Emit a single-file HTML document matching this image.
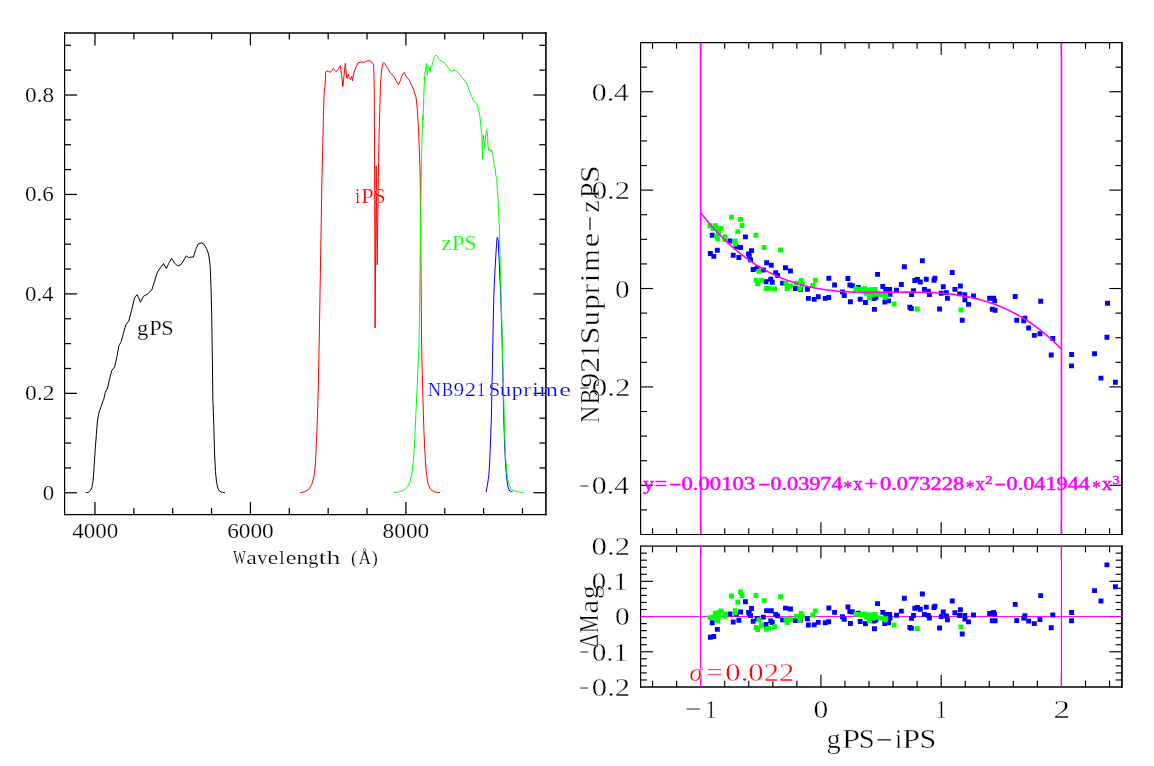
<!DOCTYPE html>
<html lang="en"><head><meta charset="utf-8"><title>Filter curves and colour term fit</title>
<style>html,body{margin:0;padding:0;background:#fff;}svg{display:block;}text{font-family:"Liberation Serif", "DejaVu Serif", serif;}.t1{stroke:#fff;stroke-width:0.2px}.t2{stroke:#fff;stroke-width:0.4px}</style>
</head><body>
<svg width="1154" height="766" viewBox="0 0 1154 766">
<rect width="1154" height="766" fill="#fff"/>
<g id="left-plot">
<polyline points="85.96,492.54 87.9,492.4 89.5,491.6 90.7,490.2 91.8,487.4 92.6,483.9 93.2,480 94.12,465.89 95.22,449.44 96.32,434.82 97.41,421.12 98.87,412.89 101.07,406.5 103.26,400.1 103.6,400 105.25,392.71 107.6,388.01 109.95,377.44 111.83,370.39 114.65,366.87 117,356.29 118.88,345.72 121.23,341.72 123.58,332.79 125.93,324.57 128.75,321.04 131.57,310.47 134.62,297.54 136.97,294.73 138.62,297.54 140.5,302.24 143.32,296.37 147.54,294.02 151.77,290.03 154.59,281.1 157.41,272.17 160.47,267.7 163.52,263.47 166.34,268.64 168.69,263.47 171.51,258.3 174.57,263 177.62,266.06 180.91,264.65 183.97,259.95 186.32,255.95 188.67,257.6 191.02,257.13 193.37,257.13 195.72,249.37 198.07,244.2 201.12,242.79 203.94,244.2 206.29,248.2 208.64,254.07 210.05,264.65 210.99,285.8 211.7,313.99 212.4,360.99 212.87,400 213.82,425.69 214.55,453.1 215.47,471.37 216.56,482.34 218.03,488.74 219.85,491.48 222.6,492.39 224.97,492.76" fill="none" stroke="#000" stroke-width="1.0" stroke-linejoin="round" />
<polyline points="300.03,492.48 304.62,491.85 308.8,489.35 311.93,484.13 314.02,475.77 315.48,463.24 316.53,440.26 317.57,413.11 318.41,381.78 319.03,350.44 319.24,340 321.93,180.01 322.66,149.67 323.4,116.77 324.13,93.01 325.2,84 325.45,78.5 325.6,72.6 326.4,71.1 328.4,71.3 330.4,72.3 333.3,68.5 335.8,71.5 337.2,70.7 340.4,65.8 341.5,74.6 342.9,86.5 345.3,63.4 346.8,78.1 347.4,78.5 348.4,74.2 349.4,78.1 350.5,79.3 351.7,76.4 352.5,80.9 353.5,73.8 355.6,68 358.12,62.85 361.23,61.93 363.97,62.48 366.72,61.02 369.09,60.47 371.65,61.93 373.66,64.68 374.21,85.7 374.39,122.25 374.58,158.81 374.7,200 375.1,328 376.2,166 377.2,265 378.3,180 378.96,140.53 379.69,113.11 380.42,85.7 381.52,71.07 382.62,63.76 383.71,62.3 384.99,63.76 387.74,68.33 390.48,73.27 393.22,75.64 395.96,80.21 398.34,84.78 400.16,81.13 401.99,75.64 404.19,72.35 406.38,76.56 409.3,80.21 411.86,85.7 414.24,91.18 416.07,97.58 417.35,109.46 418.44,127.74 419.36,149.67 420.27,180.01 421.59,340 422.22,371.33 423.05,402.66 423.89,429.82 424.93,452.79 426.19,471.59 427.86,483.08 430.37,488.93 434.13,491.85 439.97,492.48" fill="none" stroke="#f00" stroke-width="1.0" stroke-linejoin="round" />
<polyline points="486.1,492.3 487.5,484.8 488.9,474.4 489.7,461.8 490.5,440.9 491.3,420 492.3,371 493.2,325 493.8,296.8 494.6,277.2 495.7,257.6 496.7,242 497.1,238.2 497.4,237.1 497.8,238.2 498.3,242 499.3,264 500.5,290 501.7,325 502.8,370 503.8,420 504.7,446 505.6,465 506.7,478.5 508,486.9 509.6,491 510.8,490.9 511.9,492 512.6,491.6" fill="none" stroke="#00f" stroke-width="1.0" stroke-linejoin="round" />
<polyline points="393.39,492.48 398.62,492.06 403.84,490.39 407.39,487.26 410.1,482.04 412.19,471.59 413.66,456.97 414.91,436.08 415.95,413.11 417,390.13 418.04,365.07 419.09,344.18 420.86,200 421.49,165.33 422.11,133.99 422.74,115.2 423.16,120.42 423.79,96.4 424.62,75.51 425.67,68.2 426.5,63.39 427.34,75.51 428.17,66.11 429.22,67.15 430.05,72.38 430.89,66.11 431.72,66.74 432.98,61.93 434.44,56.71 436.11,55.04 437.57,56.71 439.24,59.84 442.38,61.51 445.51,64.02 448.22,67.78 451.15,71.33 453.86,69.66 456.37,70.91 459.09,73.84 462.22,77.6 465.35,81.15 467.44,84.91 469.53,91.17 471.62,96.4 473.71,100.57 476.42,103.71 478.51,107.89 479.97,117.28 481.02,127.73 481.85,133.99 482.48,159.06 483.11,135.04 483.94,140.26 484.57,148.62 485.4,138.17 486.45,129.82 487.49,133.99 488.33,150.7 489.37,148.62 490.42,151.75 491.46,149.66 492.72,154.88 493.97,163.24 495.01,167.42 495.85,175.77 496.68,177.86 497.31,190.39 498.1,200 499.3,225 500.2,264.2 501.1,296.8 501.9,325 503,370 504.25,420 504.9,440.9 505.9,461.8 507.4,477.5 509.3,485.9 511.4,489.5 515.5,491.3 519.7,492.1 523.7,492.6" fill="none" stroke="#0f0" stroke-width="1.0" stroke-linejoin="round" />
<path d="M64.6 32.2V515.2" stroke="#000" stroke-width="1.2" fill="none"/>
<path d="M545.9 32.2V515.2" stroke="#000" stroke-width="1.6" fill="none"/>
<path d="M64 33H546.7" stroke="#000" stroke-width="1.6" fill="none"/>
<path d="M64 514.6H546.7" stroke="#000" stroke-width="1.2" fill="none"/>
<line x1="94.97" y1="514.6" x2="94.97" y2="502.1" stroke="#000" stroke-width="1.25" />
<line x1="94.97" y1="33" x2="94.97" y2="45.5" stroke="#000" stroke-width="1.25" />
<line x1="133.84" y1="514.6" x2="133.84" y2="508.1" stroke="#000" stroke-width="1.25" />
<line x1="133.84" y1="33" x2="133.84" y2="39.5" stroke="#000" stroke-width="1.25" />
<line x1="172.7" y1="514.6" x2="172.7" y2="508.1" stroke="#000" stroke-width="1.25" />
<line x1="172.7" y1="33" x2="172.7" y2="39.5" stroke="#000" stroke-width="1.25" />
<line x1="211.57" y1="514.6" x2="211.57" y2="508.1" stroke="#000" stroke-width="1.25" />
<line x1="211.57" y1="33" x2="211.57" y2="39.5" stroke="#000" stroke-width="1.25" />
<line x1="250.43" y1="514.6" x2="250.43" y2="502.1" stroke="#000" stroke-width="1.25" />
<line x1="250.43" y1="33" x2="250.43" y2="45.5" stroke="#000" stroke-width="1.25" />
<line x1="289.3" y1="514.6" x2="289.3" y2="508.1" stroke="#000" stroke-width="1.25" />
<line x1="289.3" y1="33" x2="289.3" y2="39.5" stroke="#000" stroke-width="1.25" />
<line x1="328.17" y1="514.6" x2="328.17" y2="508.1" stroke="#000" stroke-width="1.25" />
<line x1="328.17" y1="33" x2="328.17" y2="39.5" stroke="#000" stroke-width="1.25" />
<line x1="367.03" y1="514.6" x2="367.03" y2="508.1" stroke="#000" stroke-width="1.25" />
<line x1="367.03" y1="33" x2="367.03" y2="39.5" stroke="#000" stroke-width="1.25" />
<line x1="405.9" y1="514.6" x2="405.9" y2="502.1" stroke="#000" stroke-width="1.25" />
<line x1="405.9" y1="33" x2="405.9" y2="45.5" stroke="#000" stroke-width="1.25" />
<line x1="444.77" y1="514.6" x2="444.77" y2="508.1" stroke="#000" stroke-width="1.25" />
<line x1="444.77" y1="33" x2="444.77" y2="39.5" stroke="#000" stroke-width="1.25" />
<line x1="483.63" y1="514.6" x2="483.63" y2="508.1" stroke="#000" stroke-width="1.25" />
<line x1="483.63" y1="33" x2="483.63" y2="39.5" stroke="#000" stroke-width="1.25" />
<line x1="522.5" y1="514.6" x2="522.5" y2="508.1" stroke="#000" stroke-width="1.25" />
<line x1="522.5" y1="33" x2="522.5" y2="39.5" stroke="#000" stroke-width="1.25" />
<line x1="64.6" y1="492.77" x2="77.1" y2="492.77" stroke="#000" stroke-width="1.25" />
<line x1="545.9" y1="492.77" x2="533.4" y2="492.77" stroke="#000" stroke-width="1.25" />
<line x1="64.6" y1="467.91" x2="71.1" y2="467.91" stroke="#000" stroke-width="1.25" />
<line x1="545.9" y1="467.91" x2="539.4" y2="467.91" stroke="#000" stroke-width="1.25" />
<line x1="64.6" y1="443.05" x2="71.1" y2="443.05" stroke="#000" stroke-width="1.25" />
<line x1="545.9" y1="443.05" x2="539.4" y2="443.05" stroke="#000" stroke-width="1.25" />
<line x1="64.6" y1="418.19" x2="71.1" y2="418.19" stroke="#000" stroke-width="1.25" />
<line x1="545.9" y1="418.19" x2="539.4" y2="418.19" stroke="#000" stroke-width="1.25" />
<line x1="64.6" y1="393.33" x2="77.1" y2="393.33" stroke="#000" stroke-width="1.25" />
<line x1="545.9" y1="393.33" x2="533.4" y2="393.33" stroke="#000" stroke-width="1.25" />
<line x1="64.6" y1="368.47" x2="71.1" y2="368.47" stroke="#000" stroke-width="1.25" />
<line x1="545.9" y1="368.47" x2="539.4" y2="368.47" stroke="#000" stroke-width="1.25" />
<line x1="64.6" y1="343.61" x2="71.1" y2="343.61" stroke="#000" stroke-width="1.25" />
<line x1="545.9" y1="343.61" x2="539.4" y2="343.61" stroke="#000" stroke-width="1.25" />
<line x1="64.6" y1="318.75" x2="71.1" y2="318.75" stroke="#000" stroke-width="1.25" />
<line x1="545.9" y1="318.75" x2="539.4" y2="318.75" stroke="#000" stroke-width="1.25" />
<line x1="64.6" y1="293.89" x2="77.1" y2="293.89" stroke="#000" stroke-width="1.25" />
<line x1="545.9" y1="293.89" x2="533.4" y2="293.89" stroke="#000" stroke-width="1.25" />
<line x1="64.6" y1="269.03" x2="71.1" y2="269.03" stroke="#000" stroke-width="1.25" />
<line x1="545.9" y1="269.03" x2="539.4" y2="269.03" stroke="#000" stroke-width="1.25" />
<line x1="64.6" y1="244.17" x2="71.1" y2="244.17" stroke="#000" stroke-width="1.25" />
<line x1="545.9" y1="244.17" x2="539.4" y2="244.17" stroke="#000" stroke-width="1.25" />
<line x1="64.6" y1="219.31" x2="71.1" y2="219.31" stroke="#000" stroke-width="1.25" />
<line x1="545.9" y1="219.31" x2="539.4" y2="219.31" stroke="#000" stroke-width="1.25" />
<line x1="64.6" y1="194.45" x2="77.1" y2="194.45" stroke="#000" stroke-width="1.25" />
<line x1="545.9" y1="194.45" x2="533.4" y2="194.45" stroke="#000" stroke-width="1.25" />
<line x1="64.6" y1="169.59" x2="71.1" y2="169.59" stroke="#000" stroke-width="1.25" />
<line x1="545.9" y1="169.59" x2="539.4" y2="169.59" stroke="#000" stroke-width="1.25" />
<line x1="64.6" y1="144.73" x2="71.1" y2="144.73" stroke="#000" stroke-width="1.25" />
<line x1="545.9" y1="144.73" x2="539.4" y2="144.73" stroke="#000" stroke-width="1.25" />
<line x1="64.6" y1="119.87" x2="71.1" y2="119.87" stroke="#000" stroke-width="1.25" />
<line x1="545.9" y1="119.87" x2="539.4" y2="119.87" stroke="#000" stroke-width="1.25" />
<line x1="64.6" y1="95.01" x2="77.1" y2="95.01" stroke="#000" stroke-width="1.25" />
<line x1="545.9" y1="95.01" x2="533.4" y2="95.01" stroke="#000" stroke-width="1.25" />
<line x1="64.6" y1="70.15" x2="71.1" y2="70.15" stroke="#000" stroke-width="1.25" />
<line x1="545.9" y1="70.15" x2="539.4" y2="70.15" stroke="#000" stroke-width="1.25" />
<line x1="64.6" y1="45.29" x2="71.1" y2="45.29" stroke="#000" stroke-width="1.25" />
<line x1="545.9" y1="45.29" x2="539.4" y2="45.29" stroke="#000" stroke-width="1.25" />
<text x="72.16" y="537.8" font-size="20" fill="#000" textLength="46.08" lengthAdjust="spacingAndGlyphs" class="t1">4000</text>
<text x="227.15" y="537.8" font-size="20" fill="#000" textLength="46.56" lengthAdjust="spacingAndGlyphs" class="t1">6000</text>
<text x="382.62" y="537.8" font-size="20" fill="#000" textLength="46.56" lengthAdjust="spacingAndGlyphs" class="t1">8000</text>
<text x="42.69" y="499.57" font-size="20" fill="#000" textLength="11.43" lengthAdjust="spacingAndGlyphs" class="t1">0</text>
<text x="24.95" y="400.13" font-size="20" fill="#000" textLength="29.55" lengthAdjust="spacingAndGlyphs" class="t1">0.2</text>
<text x="24.99" y="300.69" font-size="20" fill="#000" textLength="28.56" lengthAdjust="spacingAndGlyphs" class="t1">0.4</text>
<text x="24.97" y="201.25" font-size="20" fill="#000" textLength="28.92" lengthAdjust="spacingAndGlyphs" class="t1">0.6</text>
<text x="24.97" y="101.81" font-size="20" fill="#000" textLength="29.17" lengthAdjust="spacingAndGlyphs" class="t1">0.8</text>
<text y="563.85" font-size="18.4" fill="#000" class="t1"><tspan x="233.3" textLength="12.55" lengthAdjust="spacingAndGlyphs">W</tspan><tspan x="246.37" textLength="10.56" lengthAdjust="spacingAndGlyphs">a</tspan><tspan x="257.2" textLength="10.1" lengthAdjust="spacingAndGlyphs">v</tspan><tspan x="267.76" textLength="10.44" lengthAdjust="spacingAndGlyphs">e</tspan><tspan x="279.07" textLength="5.9" lengthAdjust="spacingAndGlyphs">l</tspan><tspan x="285.73" textLength="10.8" lengthAdjust="spacingAndGlyphs">e</tspan><tspan x="296.62" textLength="11.94" lengthAdjust="spacingAndGlyphs">n</tspan><tspan x="308.38" textLength="10.23" lengthAdjust="spacingAndGlyphs">g</tspan><tspan x="318.72" textLength="7.69" lengthAdjust="spacingAndGlyphs">t</tspan><tspan x="326.62" textLength="13.89" lengthAdjust="spacingAndGlyphs">h</tspan><tspan x="346.35" textLength="10.98" lengthAdjust="spacingAndGlyphs"> (</tspan><tspan x="358.63" textLength="12.09" lengthAdjust="spacingAndGlyphs">Å</tspan><tspan x="371.62" textLength="6.4" lengthAdjust="spacingAndGlyphs">)</tspan></text>
<text y="334.5" font-size="20.5" fill="#000" class="t1"><tspan x="137.09" textLength="11.26" lengthAdjust="spacingAndGlyphs">g</tspan><tspan x="149.33" textLength="12.5" lengthAdjust="spacingAndGlyphs">P</tspan><tspan x="161.35" textLength="12.42" lengthAdjust="spacingAndGlyphs">S</tspan></text>
<text y="202.8" font-size="20.5" fill="#f00" class="t1"><tspan x="355.35" textLength="4.86" lengthAdjust="spacingAndGlyphs">i</tspan><tspan x="361.33" textLength="12.5" lengthAdjust="spacingAndGlyphs">P</tspan><tspan x="373.25" textLength="12.42" lengthAdjust="spacingAndGlyphs">S</tspan></text>
<text y="249.6" font-size="20.5" fill="#0f0" class="t1"><tspan x="441.43" textLength="10.13" lengthAdjust="spacingAndGlyphs">z</tspan><tspan x="452.03" textLength="12.5" lengthAdjust="spacingAndGlyphs">P</tspan><tspan x="464.25" textLength="12.42" lengthAdjust="spacingAndGlyphs">S</tspan></text>
<text y="395.5" font-size="19.5" fill="#00f" class="t1"><tspan x="427.64" textLength="13.37" lengthAdjust="spacingAndGlyphs">N</tspan><tspan x="442" textLength="11.08" lengthAdjust="spacingAndGlyphs">B</tspan><tspan x="453.57" textLength="10.58" lengthAdjust="spacingAndGlyphs">9</tspan><tspan x="464.88" textLength="11.38" lengthAdjust="spacingAndGlyphs">2</tspan><tspan x="476.91" textLength="8.17" lengthAdjust="spacingAndGlyphs">1</tspan><tspan x="488.62" textLength="11.77" lengthAdjust="spacingAndGlyphs">S</tspan><tspan x="500.07" textLength="11.06" lengthAdjust="spacingAndGlyphs">u</tspan><tspan x="511.77" textLength="10.9" lengthAdjust="spacingAndGlyphs">p</tspan><tspan x="523.33" textLength="7.75" lengthAdjust="spacingAndGlyphs">r</tspan><tspan x="532.47" textLength="6.02" lengthAdjust="spacingAndGlyphs">i</tspan><tspan x="539.53" textLength="18.38" lengthAdjust="spacingAndGlyphs">m</tspan><tspan x="559.15" textLength="11.64" lengthAdjust="spacingAndGlyphs">e</tspan></text>
</g>
<g id="right-plots">
<path d="M640.6 41.95V535.05" stroke="#000" stroke-width="1.2" fill="none"/>
<path d="M1121.95 41.95V535.05" stroke="#000" stroke-width="1.7" fill="none"/>
<path d="M640 42.55H1122.8" stroke="#000" stroke-width="1.2" fill="none"/>
<path d="M640 534.5H1122.8" stroke="#000" stroke-width="1.1" fill="none"/>
<path d="M640.6 545.4V687.7" stroke="#000" stroke-width="1.2" fill="none"/>
<path d="M1121.95 545.4V687.7" stroke="#000" stroke-width="1.7" fill="none"/>
<path d="M640 546.1H1122.8" stroke="#000" stroke-width="1.4" fill="none"/>
<path d="M640 687H1122.8" stroke="#000" stroke-width="1.4" fill="none"/>
<line x1="652.53" y1="42.55" x2="652.53" y2="48.85" stroke="#000" stroke-width="1.15" />
<line x1="652.53" y1="534.5" x2="652.53" y2="528.2" stroke="#000" stroke-width="1.15" />
<line x1="652.53" y1="546.1" x2="652.53" y2="552.4" stroke="#000" stroke-width="1.15" />
<line x1="652.53" y1="687" x2="652.53" y2="680.7" stroke="#000" stroke-width="1.15" />
<line x1="676.58" y1="42.55" x2="676.58" y2="48.85" stroke="#000" stroke-width="1.15" />
<line x1="676.58" y1="534.5" x2="676.58" y2="528.2" stroke="#000" stroke-width="1.15" />
<line x1="676.58" y1="546.1" x2="676.58" y2="552.4" stroke="#000" stroke-width="1.15" />
<line x1="676.58" y1="687" x2="676.58" y2="680.7" stroke="#000" stroke-width="1.15" />
<line x1="700.63" y1="42.55" x2="700.63" y2="54.85" stroke="#000" stroke-width="1.15" />
<line x1="700.63" y1="534.5" x2="700.63" y2="522.2" stroke="#000" stroke-width="1.15" />
<line x1="700.63" y1="546.1" x2="700.63" y2="558.4" stroke="#000" stroke-width="1.15" />
<line x1="700.63" y1="687" x2="700.63" y2="674.7" stroke="#000" stroke-width="1.15" />
<line x1="724.69" y1="42.55" x2="724.69" y2="48.85" stroke="#000" stroke-width="1.15" />
<line x1="724.69" y1="534.5" x2="724.69" y2="528.2" stroke="#000" stroke-width="1.15" />
<line x1="724.69" y1="546.1" x2="724.69" y2="552.4" stroke="#000" stroke-width="1.15" />
<line x1="724.69" y1="687" x2="724.69" y2="680.7" stroke="#000" stroke-width="1.15" />
<line x1="748.74" y1="42.55" x2="748.74" y2="48.85" stroke="#000" stroke-width="1.15" />
<line x1="748.74" y1="534.5" x2="748.74" y2="528.2" stroke="#000" stroke-width="1.15" />
<line x1="748.74" y1="546.1" x2="748.74" y2="552.4" stroke="#000" stroke-width="1.15" />
<line x1="748.74" y1="687" x2="748.74" y2="680.7" stroke="#000" stroke-width="1.15" />
<line x1="772.8" y1="42.55" x2="772.8" y2="48.85" stroke="#000" stroke-width="1.15" />
<line x1="772.8" y1="534.5" x2="772.8" y2="528.2" stroke="#000" stroke-width="1.15" />
<line x1="772.8" y1="546.1" x2="772.8" y2="552.4" stroke="#000" stroke-width="1.15" />
<line x1="772.8" y1="687" x2="772.8" y2="680.7" stroke="#000" stroke-width="1.15" />
<line x1="796.85" y1="42.55" x2="796.85" y2="48.85" stroke="#000" stroke-width="1.15" />
<line x1="796.85" y1="534.5" x2="796.85" y2="528.2" stroke="#000" stroke-width="1.15" />
<line x1="796.85" y1="546.1" x2="796.85" y2="552.4" stroke="#000" stroke-width="1.15" />
<line x1="796.85" y1="687" x2="796.85" y2="680.7" stroke="#000" stroke-width="1.15" />
<line x1="820.9" y1="42.55" x2="820.9" y2="54.85" stroke="#000" stroke-width="1.15" />
<line x1="820.9" y1="534.5" x2="820.9" y2="522.2" stroke="#000" stroke-width="1.15" />
<line x1="820.9" y1="546.1" x2="820.9" y2="558.4" stroke="#000" stroke-width="1.15" />
<line x1="820.9" y1="687" x2="820.9" y2="674.7" stroke="#000" stroke-width="1.15" />
<line x1="844.96" y1="42.55" x2="844.96" y2="48.85" stroke="#000" stroke-width="1.15" />
<line x1="844.96" y1="534.5" x2="844.96" y2="528.2" stroke="#000" stroke-width="1.15" />
<line x1="844.96" y1="546.1" x2="844.96" y2="552.4" stroke="#000" stroke-width="1.15" />
<line x1="844.96" y1="687" x2="844.96" y2="680.7" stroke="#000" stroke-width="1.15" />
<line x1="869.01" y1="42.55" x2="869.01" y2="48.85" stroke="#000" stroke-width="1.15" />
<line x1="869.01" y1="534.5" x2="869.01" y2="528.2" stroke="#000" stroke-width="1.15" />
<line x1="869.01" y1="546.1" x2="869.01" y2="552.4" stroke="#000" stroke-width="1.15" />
<line x1="869.01" y1="687" x2="869.01" y2="680.7" stroke="#000" stroke-width="1.15" />
<line x1="893.07" y1="42.55" x2="893.07" y2="48.85" stroke="#000" stroke-width="1.15" />
<line x1="893.07" y1="534.5" x2="893.07" y2="528.2" stroke="#000" stroke-width="1.15" />
<line x1="893.07" y1="546.1" x2="893.07" y2="552.4" stroke="#000" stroke-width="1.15" />
<line x1="893.07" y1="687" x2="893.07" y2="680.7" stroke="#000" stroke-width="1.15" />
<line x1="917.12" y1="42.55" x2="917.12" y2="48.85" stroke="#000" stroke-width="1.15" />
<line x1="917.12" y1="534.5" x2="917.12" y2="528.2" stroke="#000" stroke-width="1.15" />
<line x1="917.12" y1="546.1" x2="917.12" y2="552.4" stroke="#000" stroke-width="1.15" />
<line x1="917.12" y1="687" x2="917.12" y2="680.7" stroke="#000" stroke-width="1.15" />
<line x1="941.17" y1="42.55" x2="941.17" y2="54.85" stroke="#000" stroke-width="1.15" />
<line x1="941.17" y1="534.5" x2="941.17" y2="522.2" stroke="#000" stroke-width="1.15" />
<line x1="941.17" y1="546.1" x2="941.17" y2="558.4" stroke="#000" stroke-width="1.15" />
<line x1="941.17" y1="687" x2="941.17" y2="674.7" stroke="#000" stroke-width="1.15" />
<line x1="965.23" y1="42.55" x2="965.23" y2="48.85" stroke="#000" stroke-width="1.15" />
<line x1="965.23" y1="534.5" x2="965.23" y2="528.2" stroke="#000" stroke-width="1.15" />
<line x1="965.23" y1="546.1" x2="965.23" y2="552.4" stroke="#000" stroke-width="1.15" />
<line x1="965.23" y1="687" x2="965.23" y2="680.7" stroke="#000" stroke-width="1.15" />
<line x1="989.28" y1="42.55" x2="989.28" y2="48.85" stroke="#000" stroke-width="1.15" />
<line x1="989.28" y1="534.5" x2="989.28" y2="528.2" stroke="#000" stroke-width="1.15" />
<line x1="989.28" y1="546.1" x2="989.28" y2="552.4" stroke="#000" stroke-width="1.15" />
<line x1="989.28" y1="687" x2="989.28" y2="680.7" stroke="#000" stroke-width="1.15" />
<line x1="1013.34" y1="42.55" x2="1013.34" y2="48.85" stroke="#000" stroke-width="1.15" />
<line x1="1013.34" y1="534.5" x2="1013.34" y2="528.2" stroke="#000" stroke-width="1.15" />
<line x1="1013.34" y1="546.1" x2="1013.34" y2="552.4" stroke="#000" stroke-width="1.15" />
<line x1="1013.34" y1="687" x2="1013.34" y2="680.7" stroke="#000" stroke-width="1.15" />
<line x1="1037.39" y1="42.55" x2="1037.39" y2="48.85" stroke="#000" stroke-width="1.15" />
<line x1="1037.39" y1="534.5" x2="1037.39" y2="528.2" stroke="#000" stroke-width="1.15" />
<line x1="1037.39" y1="546.1" x2="1037.39" y2="552.4" stroke="#000" stroke-width="1.15" />
<line x1="1037.39" y1="687" x2="1037.39" y2="680.7" stroke="#000" stroke-width="1.15" />
<line x1="1061.44" y1="42.55" x2="1061.44" y2="54.85" stroke="#000" stroke-width="1.15" />
<line x1="1061.44" y1="534.5" x2="1061.44" y2="522.2" stroke="#000" stroke-width="1.15" />
<line x1="1061.44" y1="546.1" x2="1061.44" y2="558.4" stroke="#000" stroke-width="1.15" />
<line x1="1061.44" y1="687" x2="1061.44" y2="674.7" stroke="#000" stroke-width="1.15" />
<line x1="1085.5" y1="42.55" x2="1085.5" y2="48.85" stroke="#000" stroke-width="1.15" />
<line x1="1085.5" y1="534.5" x2="1085.5" y2="528.2" stroke="#000" stroke-width="1.15" />
<line x1="1085.5" y1="546.1" x2="1085.5" y2="552.4" stroke="#000" stroke-width="1.15" />
<line x1="1085.5" y1="687" x2="1085.5" y2="680.7" stroke="#000" stroke-width="1.15" />
<line x1="1109.55" y1="42.55" x2="1109.55" y2="48.85" stroke="#000" stroke-width="1.15" />
<line x1="1109.55" y1="534.5" x2="1109.55" y2="528.2" stroke="#000" stroke-width="1.15" />
<line x1="1109.55" y1="546.1" x2="1109.55" y2="552.4" stroke="#000" stroke-width="1.15" />
<line x1="1109.55" y1="687" x2="1109.55" y2="680.7" stroke="#000" stroke-width="1.15" />
<line x1="640.6" y1="509.9" x2="647.1" y2="509.9" stroke="#000" stroke-width="1.15" />
<line x1="1121.95" y1="509.9" x2="1115.45" y2="509.9" stroke="#000" stroke-width="1.15" />
<line x1="640.6" y1="485.31" x2="653.1" y2="485.31" stroke="#000" stroke-width="1.15" />
<line x1="1121.95" y1="485.31" x2="1109.45" y2="485.31" stroke="#000" stroke-width="1.15" />
<line x1="640.6" y1="460.71" x2="647.1" y2="460.71" stroke="#000" stroke-width="1.15" />
<line x1="1121.95" y1="460.71" x2="1115.45" y2="460.71" stroke="#000" stroke-width="1.15" />
<line x1="640.6" y1="436.11" x2="647.1" y2="436.11" stroke="#000" stroke-width="1.15" />
<line x1="1121.95" y1="436.11" x2="1115.45" y2="436.11" stroke="#000" stroke-width="1.15" />
<line x1="640.6" y1="411.51" x2="647.1" y2="411.51" stroke="#000" stroke-width="1.15" />
<line x1="1121.95" y1="411.51" x2="1115.45" y2="411.51" stroke="#000" stroke-width="1.15" />
<line x1="640.6" y1="386.91" x2="653.1" y2="386.91" stroke="#000" stroke-width="1.15" />
<line x1="1121.95" y1="386.91" x2="1109.45" y2="386.91" stroke="#000" stroke-width="1.15" />
<line x1="640.6" y1="362.32" x2="647.1" y2="362.32" stroke="#000" stroke-width="1.15" />
<line x1="1121.95" y1="362.32" x2="1115.45" y2="362.32" stroke="#000" stroke-width="1.15" />
<line x1="640.6" y1="337.72" x2="647.1" y2="337.72" stroke="#000" stroke-width="1.15" />
<line x1="1121.95" y1="337.72" x2="1115.45" y2="337.72" stroke="#000" stroke-width="1.15" />
<line x1="640.6" y1="313.12" x2="647.1" y2="313.12" stroke="#000" stroke-width="1.15" />
<line x1="1121.95" y1="313.12" x2="1115.45" y2="313.12" stroke="#000" stroke-width="1.15" />
<line x1="640.6" y1="288.52" x2="653.1" y2="288.52" stroke="#000" stroke-width="1.15" />
<line x1="1121.95" y1="288.52" x2="1109.45" y2="288.52" stroke="#000" stroke-width="1.15" />
<line x1="640.6" y1="263.93" x2="647.1" y2="263.93" stroke="#000" stroke-width="1.15" />
<line x1="1121.95" y1="263.93" x2="1115.45" y2="263.93" stroke="#000" stroke-width="1.15" />
<line x1="640.6" y1="239.33" x2="647.1" y2="239.33" stroke="#000" stroke-width="1.15" />
<line x1="1121.95" y1="239.33" x2="1115.45" y2="239.33" stroke="#000" stroke-width="1.15" />
<line x1="640.6" y1="214.73" x2="647.1" y2="214.73" stroke="#000" stroke-width="1.15" />
<line x1="1121.95" y1="214.73" x2="1115.45" y2="214.73" stroke="#000" stroke-width="1.15" />
<line x1="640.6" y1="190.13" x2="653.1" y2="190.13" stroke="#000" stroke-width="1.15" />
<line x1="1121.95" y1="190.13" x2="1109.45" y2="190.13" stroke="#000" stroke-width="1.15" />
<line x1="640.6" y1="165.54" x2="647.1" y2="165.54" stroke="#000" stroke-width="1.15" />
<line x1="1121.95" y1="165.54" x2="1115.45" y2="165.54" stroke="#000" stroke-width="1.15" />
<line x1="640.6" y1="140.94" x2="647.1" y2="140.94" stroke="#000" stroke-width="1.15" />
<line x1="1121.95" y1="140.94" x2="1115.45" y2="140.94" stroke="#000" stroke-width="1.15" />
<line x1="640.6" y1="116.34" x2="647.1" y2="116.34" stroke="#000" stroke-width="1.15" />
<line x1="1121.95" y1="116.34" x2="1115.45" y2="116.34" stroke="#000" stroke-width="1.15" />
<line x1="640.6" y1="91.74" x2="653.1" y2="91.74" stroke="#000" stroke-width="1.15" />
<line x1="1121.95" y1="91.74" x2="1109.45" y2="91.74" stroke="#000" stroke-width="1.15" />
<line x1="640.6" y1="67.15" x2="647.1" y2="67.15" stroke="#000" stroke-width="1.15" />
<line x1="1121.95" y1="67.15" x2="1115.45" y2="67.15" stroke="#000" stroke-width="1.15" />
<line x1="640.6" y1="679.96" x2="646.9" y2="679.96" stroke="#000" stroke-width="1.15" />
<line x1="1121.95" y1="679.96" x2="1115.65" y2="679.96" stroke="#000" stroke-width="1.15" />
<line x1="640.6" y1="672.91" x2="646.9" y2="672.91" stroke="#000" stroke-width="1.15" />
<line x1="1121.95" y1="672.91" x2="1115.65" y2="672.91" stroke="#000" stroke-width="1.15" />
<line x1="640.6" y1="665.87" x2="646.9" y2="665.87" stroke="#000" stroke-width="1.15" />
<line x1="1121.95" y1="665.87" x2="1115.65" y2="665.87" stroke="#000" stroke-width="1.15" />
<line x1="640.6" y1="658.82" x2="646.9" y2="658.82" stroke="#000" stroke-width="1.15" />
<line x1="1121.95" y1="658.82" x2="1115.65" y2="658.82" stroke="#000" stroke-width="1.15" />
<line x1="640.6" y1="651.77" x2="653.1" y2="651.77" stroke="#000" stroke-width="1.15" />
<line x1="1121.95" y1="651.77" x2="1109.45" y2="651.77" stroke="#000" stroke-width="1.15" />
<line x1="640.6" y1="644.73" x2="646.9" y2="644.73" stroke="#000" stroke-width="1.15" />
<line x1="1121.95" y1="644.73" x2="1115.65" y2="644.73" stroke="#000" stroke-width="1.15" />
<line x1="640.6" y1="637.68" x2="646.9" y2="637.68" stroke="#000" stroke-width="1.15" />
<line x1="1121.95" y1="637.68" x2="1115.65" y2="637.68" stroke="#000" stroke-width="1.15" />
<line x1="640.6" y1="630.64" x2="646.9" y2="630.64" stroke="#000" stroke-width="1.15" />
<line x1="1121.95" y1="630.64" x2="1115.65" y2="630.64" stroke="#000" stroke-width="1.15" />
<line x1="640.6" y1="623.6" x2="646.9" y2="623.6" stroke="#000" stroke-width="1.15" />
<line x1="1121.95" y1="623.6" x2="1115.65" y2="623.6" stroke="#000" stroke-width="1.15" />
<line x1="640.6" y1="616.55" x2="653.1" y2="616.55" stroke="#000" stroke-width="1.15" />
<line x1="1121.95" y1="616.55" x2="1109.45" y2="616.55" stroke="#000" stroke-width="1.15" />
<line x1="640.6" y1="609.5" x2="646.9" y2="609.5" stroke="#000" stroke-width="1.15" />
<line x1="1121.95" y1="609.5" x2="1115.65" y2="609.5" stroke="#000" stroke-width="1.15" />
<line x1="640.6" y1="602.46" x2="646.9" y2="602.46" stroke="#000" stroke-width="1.15" />
<line x1="1121.95" y1="602.46" x2="1115.65" y2="602.46" stroke="#000" stroke-width="1.15" />
<line x1="640.6" y1="595.41" x2="646.9" y2="595.41" stroke="#000" stroke-width="1.15" />
<line x1="1121.95" y1="595.41" x2="1115.65" y2="595.41" stroke="#000" stroke-width="1.15" />
<line x1="640.6" y1="588.37" x2="646.9" y2="588.37" stroke="#000" stroke-width="1.15" />
<line x1="1121.95" y1="588.37" x2="1115.65" y2="588.37" stroke="#000" stroke-width="1.15" />
<line x1="640.6" y1="581.33" x2="653.1" y2="581.33" stroke="#000" stroke-width="1.15" />
<line x1="1121.95" y1="581.33" x2="1109.45" y2="581.33" stroke="#000" stroke-width="1.15" />
<line x1="640.6" y1="574.28" x2="646.9" y2="574.28" stroke="#000" stroke-width="1.15" />
<line x1="1121.95" y1="574.28" x2="1115.65" y2="574.28" stroke="#000" stroke-width="1.15" />
<line x1="640.6" y1="567.24" x2="646.9" y2="567.24" stroke="#000" stroke-width="1.15" />
<line x1="1121.95" y1="567.24" x2="1115.65" y2="567.24" stroke="#000" stroke-width="1.15" />
<line x1="640.6" y1="560.19" x2="646.9" y2="560.19" stroke="#000" stroke-width="1.15" />
<line x1="1121.95" y1="560.19" x2="1115.65" y2="560.19" stroke="#000" stroke-width="1.15" />
<line x1="640.6" y1="553.14" x2="646.9" y2="553.14" stroke="#000" stroke-width="1.15" />
<line x1="1121.95" y1="553.14" x2="1115.65" y2="553.14" stroke="#000" stroke-width="1.15" />
<line x1="640.6" y1="616.55" x2="1121.95" y2="616.55" stroke="#f0f" stroke-width="1.0" />
<path d="M709.78 232.84h4.9v4.9h-4.9zM727.54 238.58h4.9v4.9h-4.9zM742.99 234.4h4.9v4.9h-4.9zM714.9 247.77h4.9v4.9h-4.9zM707.9 251.11h4.9v4.9h-4.9zM711.35 253.93h4.9v4.9h-4.9zM730.77 252.78h4.9v4.9h-4.9zM736.41 255.08h4.9v4.9h-4.9zM738.19 245.06h4.9v4.9h-4.9zM733.8 244.33h4.9v4.9h-4.9zM749.05 248.19h4.9v4.9h-4.9zM746.13 251.43h4.9v4.9h-4.9zM746.86 253.41h4.9v4.9h-4.9zM748.11 257.38h4.9v4.9h-4.9zM764.19 260.3h4.9v4.9h-4.9zM768.79 262.81h4.9v4.9h-4.9zM750.72 266.99h4.9v4.9h-4.9zM754.69 265.74h4.9v4.9h-4.9zM760.96 267.51h4.9v4.9h-4.9zM768.27 276.7h4.9v4.9h-4.9zM763.57 279.31h4.9v4.9h-4.9zM769.83 279.83h4.9v4.9h-4.9zM783.05 265.36h4.9v4.9h-4.9zM788.01 268.49h4.9v4.9h-4.9zM773.25 270.19h4.9v4.9h-4.9zM775.21 273.06h4.9v4.9h-4.9zM780.17 280.63h4.9v4.9h-4.9zM792.97 286.11h4.9v4.9h-4.9zM798.06 286.9h4.9v4.9h-4.9zM804.98 286.9h4.9v4.9h-4.9zM805.89 295.91h4.9v4.9h-4.9zM811.77 296.95h4.9v4.9h-4.9zM815.81 294.34h4.9v4.9h-4.9zM822.86 295.91h4.9v4.9h-4.9zM826.26 294.99h4.9v4.9h-4.9zM826.39 275.8h4.9v4.9h-4.9zM832.13 282.59h4.9v4.9h-4.9zM845.45 276.06h4.9v4.9h-4.9zM847.41 282.59h4.9v4.9h-4.9zM850.02 283.24h4.9v4.9h-4.9zM839.97 289.38h4.9v4.9h-4.9zM841.79 293.03h4.9v4.9h-4.9zM847.93 299.3h4.9v4.9h-4.9zM875.13 271.94h4.9v4.9h-4.9zM901.9 264.23h4.9v4.9h-4.9zM919.91 258.23h4.9v4.9h-4.9zM949.81 270.11h4.9v4.9h-4.9zM898.89 282.12h4.9v4.9h-4.9zM880.36 284.08h4.9v4.9h-4.9zM855.81 284.99h4.9v4.9h-4.9zM883.23 286.95h4.9v4.9h-4.9zM887.15 286.95h4.9v4.9h-4.9zM894.06 287.86h4.9v4.9h-4.9zM887.54 291.91h4.9v4.9h-4.9zM911.04 288.25h4.9v4.9h-4.9zM909.08 292.17h4.9v4.9h-4.9zM912.34 278.07h4.9v4.9h-4.9zM914.95 276.9h4.9v4.9h-4.9zM917.82 279.51h4.9v4.9h-4.9zM923.83 276.77h4.9v4.9h-4.9zM931.53 277.81h4.9v4.9h-4.9zM932.45 275.85h4.9v4.9h-4.9zM940.8 284.34h4.9v4.9h-4.9zM922 286.95h4.9v4.9h-4.9zM925.92 288.65h4.9v4.9h-4.9zM926.96 292.17h4.9v4.9h-4.9zM938.71 290.87h4.9v4.9h-4.9zM943.93 290.21h4.9v4.9h-4.9zM944.98 295.83h4.9v4.9h-4.9zM952.42 286.95h4.9v4.9h-4.9zM857.77 296.74h4.9v4.9h-4.9zM862.99 300h4.9v4.9h-4.9zM871.48 296.09h4.9v4.9h-4.9zM873.44 294.78h4.9v4.9h-4.9zM882.32 299.61h4.9v4.9h-4.9zM886.1 298.44h4.9v4.9h-4.9zM872 306.92h4.9v4.9h-4.9zM907.38 304.83h4.9v4.9h-4.9zM908.95 306.14h4.9v4.9h-4.9zM937.15 306.53h4.9v4.9h-4.9zM957.9 283.58h4.9v4.9h-4.9zM957.12 291.42h4.9v4.9h-4.9zM962.29 292.2h4.9v4.9h-4.9zM962.45 297.37h4.9v4.9h-4.9zM966.05 301.91h4.9v4.9h-4.9zM971.06 293.45h4.9v4.9h-4.9zM987.2 295.8h4.9v4.9h-4.9zM991.12 295.8h4.9v4.9h-4.9zM992.21 298.47h4.9v4.9h-4.9zM989.86 306.77h4.9v4.9h-4.9zM992.68 307.87h4.9v4.9h-4.9zM959.78 317.74h4.9v4.9h-4.9zM1012.74 294.08h4.9v4.9h-4.9zM1038.27 298.78h4.9v4.9h-4.9zM1014.3 317.74h4.9v4.9h-4.9zM1022.45 315.7h4.9v4.9h-4.9zM1021.35 318.36h4.9v4.9h-4.9zM1026.21 325.57h4.9v4.9h-4.9zM1031.85 332.93h4.9v4.9h-4.9zM1037.49 331.37h4.9v4.9h-4.9zM1050.34 336.07h4.9v4.9h-4.9zM1048.77 352.52h4.9v4.9h-4.9zM1069.21 352h4.9v4.9h-4.9zM1069.05 363.44h4.9v4.9h-4.9zM1092.1 351.37h4.9v4.9h-4.9zM1105.1 300.75h4.9v4.9h-4.9zM1104.48 334.76h4.9v4.9h-4.9zM1098.52 375.67h4.9v4.9h-4.9zM1112.94 379.74h4.9v4.9h-4.9z" fill="#00f"/>
<path d="M729 214.87h4.9v4.9h-4.9zM738.09 216.96h4.9v4.9h-4.9zM739.55 223.12h4.9v4.9h-4.9zM735.37 229.18h4.9v4.9h-4.9zM753.44 232.84h4.9v4.9h-4.9zM761.69 245.06h4.9v4.9h-4.9zM707.48 223.23h4.9v4.9h-4.9zM710.83 226.05h4.9v4.9h-4.9zM712.92 223.23h4.9v4.9h-4.9zM716.05 225.74h4.9v4.9h-4.9zM718.66 226.05h4.9v4.9h-4.9zM714.27 233.88h4.9v4.9h-4.9zM715.32 236.49h4.9v4.9h-4.9zM722.32 234.19h4.9v4.9h-4.9zM722.32 237.01h4.9v4.9h-4.9zM732.76 238.58h4.9v4.9h-4.9zM732.76 241.71h4.9v4.9h-4.9zM756.47 268.87h4.9v4.9h-4.9zM753.65 277.75h4.9v4.9h-4.9zM759.08 277.75h4.9v4.9h-4.9zM755.22 281.37h4.9v4.9h-4.9zM763.83 286.07h4.9v4.9h-4.9zM766.18 286.07h4.9v4.9h-4.9zM772.14 286.54h4.9v4.9h-4.9zM778.09 247.6h4.9v4.9h-4.9zM783.44 280.63h4.9v4.9h-4.9zM784.74 283.24h4.9v4.9h-4.9zM784.74 286.11h4.9v4.9h-4.9zM788.01 283.5h4.9v4.9h-4.9zM793.88 280.63h4.9v4.9h-4.9zM798.71 278.02h4.9v4.9h-4.9zM799.76 281.94h4.9v4.9h-4.9zM797.54 286.11h4.9v4.9h-4.9zM812.94 277.76h4.9v4.9h-4.9zM810.33 282.98h4.9v4.9h-4.9zM869.25 287.25h4.9v4.9h-4.9zM716.15 230.75h4.9v4.9h-4.9zM853.46 286.3h4.9v4.9h-4.9zM858.42 286.95h4.9v4.9h-4.9zM862.34 286.3h4.9v4.9h-4.9zM865.6 287.6h4.9v4.9h-4.9zM863.65 290.87h4.9v4.9h-4.9zM867.56 291.52h4.9v4.9h-4.9zM872.78 286.95h4.9v4.9h-4.9zM866.91 295.44h4.9v4.9h-4.9zM870.83 292.17h4.9v4.9h-4.9zM875.4 291.52h4.9v4.9h-4.9zM879.31 292.17h4.9v4.9h-4.9zM883.23 292.82h4.9v4.9h-4.9zM882.84 294.78h4.9v4.9h-4.9zM891.71 301.57h4.9v4.9h-4.9zM914.82 306.53h4.9v4.9h-4.9zM958.53 307.55h4.9v4.9h-4.9z" fill="#0f0"/>
<path d="M709.78 620.23h4.9v4.9h-4.9zM727.54 611.44h4.9v4.9h-4.9zM742.99 599.33h4.9v4.9h-4.9zM714.9 626.92h4.9v4.9h-4.9zM707.9 634.84h4.9v4.9h-4.9zM711.35 634.08h4.9v4.9h-4.9zM730.77 619.54h4.9v4.9h-4.9zM736.41 617.79h4.9v4.9h-4.9zM738.19 609.59h4.9v4.9h-4.9zM733.8 611.63h4.9v4.9h-4.9zM749.05 606.12h4.9v4.9h-4.9zM746.13 609.89h4.9v4.9h-4.9zM746.86 610.94h4.9v4.9h-4.9zM748.11 613.16h4.9v4.9h-4.9zM764.19 608.21h4.9v4.9h-4.9zM768.79 608.3h4.9v4.9h-4.9zM750.72 618.77h4.9v4.9h-4.9zM754.69 616.05h4.9v4.9h-4.9zM760.96 614.65h4.9v4.9h-4.9zM768.27 618.43h4.9v4.9h-4.9zM763.57 622.06h4.9v4.9h-4.9zM769.83 620.12h4.9v4.9h-4.9zM783.05 605.64h4.9v4.9h-4.9zM788.01 606.58h4.9v4.9h-4.9zM773.25 612.05h4.9v4.9h-4.9zM775.21 613.47h4.9v4.9h-4.9zM780.17 617.38h4.9v4.9h-4.9zM792.97 618.03h4.9v4.9h-4.9zM798.06 617.51h4.9v4.9h-4.9zM804.98 616.24h4.9v4.9h-4.9zM805.89 622.54h4.9v4.9h-4.9zM811.77 622.38h4.9v4.9h-4.9zM815.81 619.97h4.9v4.9h-4.9zM822.86 620.3h4.9v4.9h-4.9zM826.26 619.32h4.9v4.9h-4.9zM826.39 605.57h4.9v4.9h-4.9zM832.13 609.96h4.9v4.9h-4.9zM845.45 604.56h4.9v4.9h-4.9zM847.41 609.16h4.9v4.9h-4.9zM850.02 609.54h4.9v4.9h-4.9zM839.97 614.34h4.9v4.9h-4.9zM841.79 616.87h4.9v4.9h-4.9zM847.93 621.11h4.9v4.9h-4.9zM875.13 601.2h4.9v4.9h-4.9zM901.9 595.87h4.9v4.9h-4.9zM919.91 591.48h4.9v4.9h-4.9zM949.81 598.54h4.9v4.9h-4.9zM898.89 608.66h4.9v4.9h-4.9zM880.36 609.92h4.9v4.9h-4.9zM855.81 610.66h4.9v4.9h-4.9zM883.23 612h4.9v4.9h-4.9zM887.15 612.03h4.9v4.9h-4.9zM894.06 612.74h4.9v4.9h-4.9zM887.54 615.59h4.9v4.9h-4.9zM911.04 613.07h4.9v4.9h-4.9zM909.08 615.88h4.9v4.9h-4.9zM912.34 605.77h4.9v4.9h-4.9zM914.95 604.91h4.9v4.9h-4.9zM917.82 606.74h4.9v4.9h-4.9zM923.83 604.67h4.9v4.9h-4.9zM931.53 605.18h4.9v4.9h-4.9zM932.45 603.74h4.9v4.9h-4.9zM940.8 609.39h4.9v4.9h-4.9zM922 612h4.9v4.9h-4.9zM925.92 613.12h4.9v4.9h-4.9zM926.96 615.62h4.9v4.9h-4.9zM938.71 614.19h4.9v4.9h-4.9zM943.93 613.39h4.9v4.9h-4.9zM944.98 617.34h4.9v4.9h-4.9zM952.42 610.36h4.9v4.9h-4.9zM857.77 619.04h4.9v4.9h-4.9zM862.99 621.31h4.9v4.9h-4.9zM871.48 618.48h4.9v4.9h-4.9zM873.44 617.55h4.9v4.9h-4.9zM882.32 621.06h4.9v4.9h-4.9zM886.1 620.25h4.9v4.9h-4.9zM872 626.24h4.9v4.9h-4.9zM907.38 624.95h4.9v4.9h-4.9zM908.95 625.88h4.9v4.9h-4.9zM937.15 625.49h4.9v4.9h-4.9zM957.9 607.37h4.9v4.9h-4.9zM957.12 613.07h4.9v4.9h-4.9zM962.29 613h4.9v4.9h-4.9zM962.45 616.68h4.9v4.9h-4.9zM966.05 619.44h4.9v4.9h-4.9zM971.06 612.6h4.9v4.9h-4.9zM987.2 611.03h4.9v4.9h-4.9zM991.12 610.05h4.9v4.9h-4.9zM992.21 611.67h4.9v4.9h-4.9zM989.86 618.23h4.9v4.9h-4.9zM992.68 618.28h4.9v4.9h-4.9zM959.78 631.6h4.9v4.9h-4.9zM1012.74 601.89h4.9v4.9h-4.9zM1038.27 593.21h4.9v4.9h-4.9zM1014.3 618.21h4.9v4.9h-4.9zM1022.45 613.32h4.9v4.9h-4.9zM1021.35 615.71h4.9v4.9h-4.9zM1026.21 618.65h4.9v4.9h-4.9zM1031.85 621.13h4.9v4.9h-4.9zM1037.49 616.98h4.9v4.9h-4.9zM1050.34 612.54h4.9v4.9h-4.9zM1048.77 625.34h4.9v4.9h-4.9zM1069.21 609.98h4.9v4.9h-4.9zM1069.05 618.3h4.9v4.9h-4.9zM1092.1 588.16h4.9v4.9h-4.9zM1104.48 562.47h4.9v4.9h-4.9zM1098.52 598.6h4.9v4.9h-4.9zM1112.94 584.29h4.9v4.9h-4.9z" fill="#00f"/>
<path d="M729 593.52h4.9v4.9h-4.9zM738.09 589.53h4.9v4.9h-4.9zM739.55 593.12h4.9v4.9h-4.9zM735.37 599.85h4.9v4.9h-4.9zM753.44 593.06h4.9v4.9h-4.9zM761.69 598.27h4.9v4.9h-4.9zM707.48 615.22h4.9v4.9h-4.9zM710.83 614.53h4.9v4.9h-4.9zM712.92 610.87h4.9v4.9h-4.9zM716.05 610.27h4.9v4.9h-4.9zM718.66 608.57h4.9v4.9h-4.9zM714.27 617.45h4.9v4.9h-4.9zM715.32 618.53h4.9v4.9h-4.9zM722.32 611.81h4.9v4.9h-4.9zM722.32 613.83h4.9v4.9h-4.9zM732.76 608.15h4.9v4.9h-4.9zM732.76 610.39h4.9v4.9h-4.9zM756.47 617.51h4.9v4.9h-4.9zM753.65 625.12h4.9v4.9h-4.9zM759.08 622.75h4.9v4.9h-4.9zM755.22 627.01h4.9v4.9h-4.9zM763.83 626.79h4.9v4.9h-4.9zM766.18 625.9h4.9v4.9h-4.9zM772.14 624.13h4.9v4.9h-4.9zM778.09 594.35h4.9v4.9h-4.9zM783.44 616.47h4.9v4.9h-4.9zM784.74 617.98h4.9v4.9h-4.9zM784.74 620.04h4.9v4.9h-4.9zM788.01 617.33h4.9v4.9h-4.9zM793.88 613.9h4.9v4.9h-4.9zM798.71 611.03h4.9v4.9h-4.9zM799.76 613.63h4.9v4.9h-4.9zM797.54 617.06h4.9v4.9h-4.9zM812.94 608.48h4.9v4.9h-4.9zM810.33 612.59h4.9v4.9h-4.9zM869.25 612.15h4.9v4.9h-4.9zM716.15 613.79h4.9v4.9h-4.9zM853.46 611.64h4.9v4.9h-4.9zM858.42 612.02h4.9v4.9h-4.9zM862.34 611.5h4.9v4.9h-4.9zM865.6 612.42h4.9v4.9h-4.9zM863.65 614.77h4.9v4.9h-4.9zM867.56 615.21h4.9v4.9h-4.9zM872.78 611.94h4.9v4.9h-4.9zM866.91 618.02h4.9v4.9h-4.9zM870.83 615.68h4.9v4.9h-4.9zM875.4 615.22h4.9v4.9h-4.9zM879.31 615.71h4.9v4.9h-4.9zM883.23 616.2h4.9v4.9h-4.9zM882.84 617.6h4.9v4.9h-4.9zM891.71 622.54h4.9v4.9h-4.9zM914.82 626.13h4.9v4.9h-4.9zM958.53 624.46h4.9v4.9h-4.9z" fill="#0f0"/>
<polyline points="700.63,212.82 703.64,216.6 706.65,220.26 709.66,223.79 712.66,227.21 715.67,230.52 718.68,233.71 721.68,236.8 724.69,239.77 727.7,242.64 730.7,245.4 733.71,248.06 736.72,250.62 739.72,253.08 742.73,255.44 745.74,257.7 748.74,259.88 751.75,261.96 754.76,263.95 757.76,265.85 760.77,267.67 763.78,269.41 766.78,271.06 769.79,272.63 772.8,274.13 775.8,275.55 778.81,276.89 781.82,278.16 784.82,279.37 787.83,280.5 790.84,281.57 793.84,282.57 796.85,283.52 799.86,284.4 802.86,285.22 805.87,285.98 808.88,286.7 811.88,287.35 814.89,287.96 817.9,288.52 820.9,289.03 823.91,289.5 826.92,289.92 829.93,290.3 832.93,290.65 835.94,290.95 838.95,291.22 841.95,291.46 844.96,291.67 847.97,291.84 850.97,291.99 853.98,292.11 856.99,292.21 859.99,292.29 863,292.35 866.01,292.39 869.01,292.41 872.02,292.42 875.03,292.41 878.03,292.4 881.04,292.38 884.05,292.35 887.05,292.32 890.06,292.29 893.07,292.25 896.07,292.22 899.08,292.19 902.09,292.16 905.09,292.14 908.1,292.13 911.11,292.14 914.11,292.15 917.12,292.18 920.13,292.23 923.13,292.29 926.14,292.38 929.15,292.49 932.15,292.62 935.16,292.78 938.17,292.97 941.17,293.19 944.18,293.44 947.19,293.73 950.2,294.05 953.2,294.41 956.21,294.81 959.22,295.25 962.22,295.74 965.23,296.27 968.24,296.85 971.24,297.48 974.25,298.16 977.26,298.9 980.26,299.69 983.27,300.54 986.28,301.45 989.28,302.41 992.29,303.45 995.3,304.54 998.3,305.71 1001.31,306.94 1004.32,308.25 1007.32,309.63 1010.33,311.08 1013.34,312.61 1016.34,314.22 1019.35,315.9 1022.36,317.68 1025.36,319.53 1028.37,321.48 1031.38,323.51 1034.38,325.63 1037.39,327.84 1040.4,330.15 1043.4,332.55 1046.41,335.06 1049.42,337.66 1052.42,340.36 1055.43,343.17 1058.44,346.09 1061.44,349.11" fill="none" stroke="#f0f" stroke-width="1.6" stroke-linejoin="round" />
<line x1="700.63" y1="42.55" x2="700.63" y2="534.5" stroke="#f0f" stroke-width="1.6" />
<line x1="700.63" y1="546.1" x2="700.63" y2="687" stroke="#f0f" stroke-width="1.25" />
<line x1="1061.44" y1="42.55" x2="1061.44" y2="534.5" stroke="#f0f" stroke-width="1.6" />
<line x1="1061.44" y1="546.1" x2="1061.44" y2="687" stroke="#f0f" stroke-width="1.25" />
<text x="591.71" y="100.74" font-size="26" fill="#000" textLength="37.34" lengthAdjust="spacingAndGlyphs" class="t2">0.4</text>
<text x="591.66" y="199.13" font-size="26" fill="#000" textLength="38.64" lengthAdjust="spacingAndGlyphs" class="t2">0.2</text>
<text x="615.13" y="297.52" font-size="26" fill="#000" textLength="14.64" lengthAdjust="spacingAndGlyphs" class="t2">0</text>
<text y="395.91" font-size="26" fill="#000" class="t2"><tspan x="578.46" textLength="11.78" lengthAdjust="spacingAndGlyphs" style="stroke-width:0.8px" dy="-2.4">-</tspan><tspan x="591.77" textLength="38.53" lengthAdjust="spacingAndGlyphs" dy="2.4">0.2</tspan></text>
<text y="494.31" font-size="26" fill="#000" class="t2"><tspan x="578.46" textLength="11.78" lengthAdjust="spacingAndGlyphs" style="stroke-width:0.8px" dy="-2.4">-</tspan><tspan x="591.81" textLength="37.24" lengthAdjust="spacingAndGlyphs" dy="2.4">0.4</tspan></text>
<text x="591.56" y="555" font-size="26" fill="#000" textLength="38.64" lengthAdjust="spacingAndGlyphs" class="t2">0.2</text>
<text x="591.65" y="590.23" font-size="26" fill="#000" textLength="36.09" lengthAdjust="spacingAndGlyphs" class="t2">0.1</text>
<text x="615.03" y="625.45" font-size="26" fill="#000" textLength="14.64" lengthAdjust="spacingAndGlyphs" class="t2">0</text>
<text y="660.67" font-size="26" fill="#000" class="t2"><tspan x="578.48" textLength="11.66" lengthAdjust="spacingAndGlyphs" style="stroke-width:0.8px" dy="-2.4">-</tspan><tspan x="591.96" textLength="35.76" lengthAdjust="spacingAndGlyphs" dy="2.4">0.1</tspan></text>
<text y="695.9" font-size="26" fill="#000" class="t2"><tspan x="578.48" textLength="11.66" lengthAdjust="spacingAndGlyphs" style="stroke-width:0.8px" dy="-2.4">-</tspan><tspan x="591.87" textLength="38.31" lengthAdjust="spacingAndGlyphs" dy="2.4">0.2</tspan></text>
<text y="717.6" font-size="26" fill="#000" class="t2"><tspan x="683.48" textLength="19.21" lengthAdjust="spacingAndGlyphs" style="stroke-width:0.8px" dy="-2.4">-</tspan><tspan x="704.94" textLength="11.55" lengthAdjust="spacingAndGlyphs" dy="2.4">1</tspan></text>
<text x="813.42" y="717.6" font-size="26" fill="#000" textLength="14.76" lengthAdjust="spacingAndGlyphs" class="t2">0</text>
<text x="935.95" y="717.6" font-size="26" fill="#000" textLength="10.28" lengthAdjust="spacingAndGlyphs" class="t2">1</text>
<text x="1053.6" y="717.6" font-size="26" fill="#000" textLength="16.63" lengthAdjust="spacingAndGlyphs" class="t2">2</text>
<text y="748" font-size="26.7" fill="#000" class="t2"><tspan x="826.62" textLength="14.25" lengthAdjust="spacingAndGlyphs">g</tspan><tspan x="842.12" textLength="18.12" lengthAdjust="spacingAndGlyphs">P</tspan><tspan x="858.74" textLength="15.91" lengthAdjust="spacingAndGlyphs">S</tspan><tspan x="874.55" textLength="19.47" lengthAdjust="spacingAndGlyphs" style="stroke-width:0.8px" dy="-2.47">-</tspan><tspan x="894.98" textLength="7.18" lengthAdjust="spacingAndGlyphs" dy="2.47">i</tspan><tspan x="902.46" textLength="17.43" lengthAdjust="spacingAndGlyphs">P</tspan><tspan x="919.45" textLength="16.69" lengthAdjust="spacingAndGlyphs">S</tspan></text>
<text y="0" font-size="27.4" fill="#000" class="t2" transform="translate(598.5 422.5) rotate(-90)"><tspan x="-0.73" textLength="17.68" lengthAdjust="spacingAndGlyphs">N</tspan><tspan x="18.08" textLength="15.94" lengthAdjust="spacingAndGlyphs">B</tspan><tspan x="34.71" textLength="14.88" lengthAdjust="spacingAndGlyphs">9</tspan><tspan x="49.76" textLength="16" lengthAdjust="spacingAndGlyphs">2</tspan><tspan x="65.64" textLength="11.55" lengthAdjust="spacingAndGlyphs">1</tspan><tspan x="78.33" textLength="17.72" lengthAdjust="spacingAndGlyphs">S</tspan><tspan x="96.46" textLength="14.57" lengthAdjust="spacingAndGlyphs">u</tspan><tspan x="112.84" textLength="15.39" lengthAdjust="spacingAndGlyphs">p</tspan><tspan x="128.5" textLength="9.94" lengthAdjust="spacingAndGlyphs">r</tspan><tspan x="140.39" textLength="8.45" lengthAdjust="spacingAndGlyphs">i</tspan><tspan x="150.82" textLength="22.45" lengthAdjust="spacingAndGlyphs">m</tspan><tspan x="175.31" textLength="14.27" lengthAdjust="spacingAndGlyphs">e</tspan><tspan x="189.87" textLength="18.32" lengthAdjust="spacingAndGlyphs" style="stroke-width:0.8px" dy="-2.53">-</tspan><tspan x="209.69" textLength="12.52" lengthAdjust="spacingAndGlyphs" dy="2.53">z</tspan><tspan x="224.15" textLength="15.71" lengthAdjust="spacingAndGlyphs">P</tspan><tspan x="239.43" textLength="17.72" lengthAdjust="spacingAndGlyphs">S</tspan></text>
<text y="0" font-size="26.5" fill="#000" class="t2" transform="translate(597.7 646.9) rotate(-90)"><tspan x="-0.85" textLength="13.66" lengthAdjust="spacingAndGlyphs">Δ</tspan><tspan x="13.98" textLength="18.43" lengthAdjust="spacingAndGlyphs">M</tspan><tspan x="33.33" textLength="13.6" lengthAdjust="spacingAndGlyphs">a</tspan><tspan x="47.86" textLength="13.79" lengthAdjust="spacingAndGlyphs">g</tspan></text>
<text y="681" font-size="26" fill="#f00" class="t2"><tspan x="689.2" textLength="13.15" lengthAdjust="spacingAndGlyphs" font-style="italic">σ</tspan><tspan x="705.84" textLength="17.59" lengthAdjust="spacingAndGlyphs">=</tspan><tspan x="725.37" textLength="68.91" lengthAdjust="spacingAndGlyphs">0.022</tspan></text>
<text y="490.3" font-size="18.5" fill="#f0f" stroke="#f0f" stroke-width="0.5"><tspan x="642.98" textLength="11.13" lengthAdjust="spacingAndGlyphs">y</tspan><tspan x="654.7" textLength="12.37" lengthAdjust="spacingAndGlyphs">=</tspan><tspan x="669.05" textLength="12.81" lengthAdjust="spacingAndGlyphs" stroke-width="0.15" dy="-1.71">-</tspan><tspan x="681.49" textLength="73.71" lengthAdjust="spacingAndGlyphs" dy="1.71">0.00103</tspan><tspan x="758.05" textLength="12.81" lengthAdjust="spacingAndGlyphs" stroke-width="0.15" dy="-1.71">-</tspan><tspan x="770.51" textLength="72.02" lengthAdjust="spacingAndGlyphs" dy="1.71">0.03974</tspan><tspan x="843.52" textLength="8.75" lengthAdjust="spacingAndGlyphs" dy="3.5">*</tspan><tspan x="853.21" textLength="9.38" lengthAdjust="spacingAndGlyphs" dy="-3.5">x</tspan><tspan x="864.6" textLength="13.58" lengthAdjust="spacingAndGlyphs">+</tspan><tspan x="879.9" textLength="84.4" lengthAdjust="spacingAndGlyphs">0.073228</tspan><tspan x="965.83" textLength="8.75" lengthAdjust="spacingAndGlyphs" dy="3.5">*</tspan><tspan x="975.61" textLength="9.38" lengthAdjust="spacingAndGlyphs" dy="-3.5">x</tspan><tspan x="985.25" textLength="7.25" lengthAdjust="spacingAndGlyphs" font-size="12.5" dy="-6">2</tspan><tspan x="994.23" textLength="12.04" lengthAdjust="spacingAndGlyphs" stroke-width="0.15" dy="4.29">-</tspan><tspan x="1006.61" textLength="83.22" lengthAdjust="spacingAndGlyphs" dy="1.71">0.041944</tspan><tspan x="1092.03" textLength="8.75" lengthAdjust="spacingAndGlyphs" dy="3.5">*</tspan><tspan x="1101.69" textLength="10.52" lengthAdjust="spacingAndGlyphs" dy="-3.5">x</tspan><tspan x="1112.57" textLength="6.99" lengthAdjust="spacingAndGlyphs" font-size="12.5" dy="-6">3</tspan></text>
</g>
</svg></body></html>
